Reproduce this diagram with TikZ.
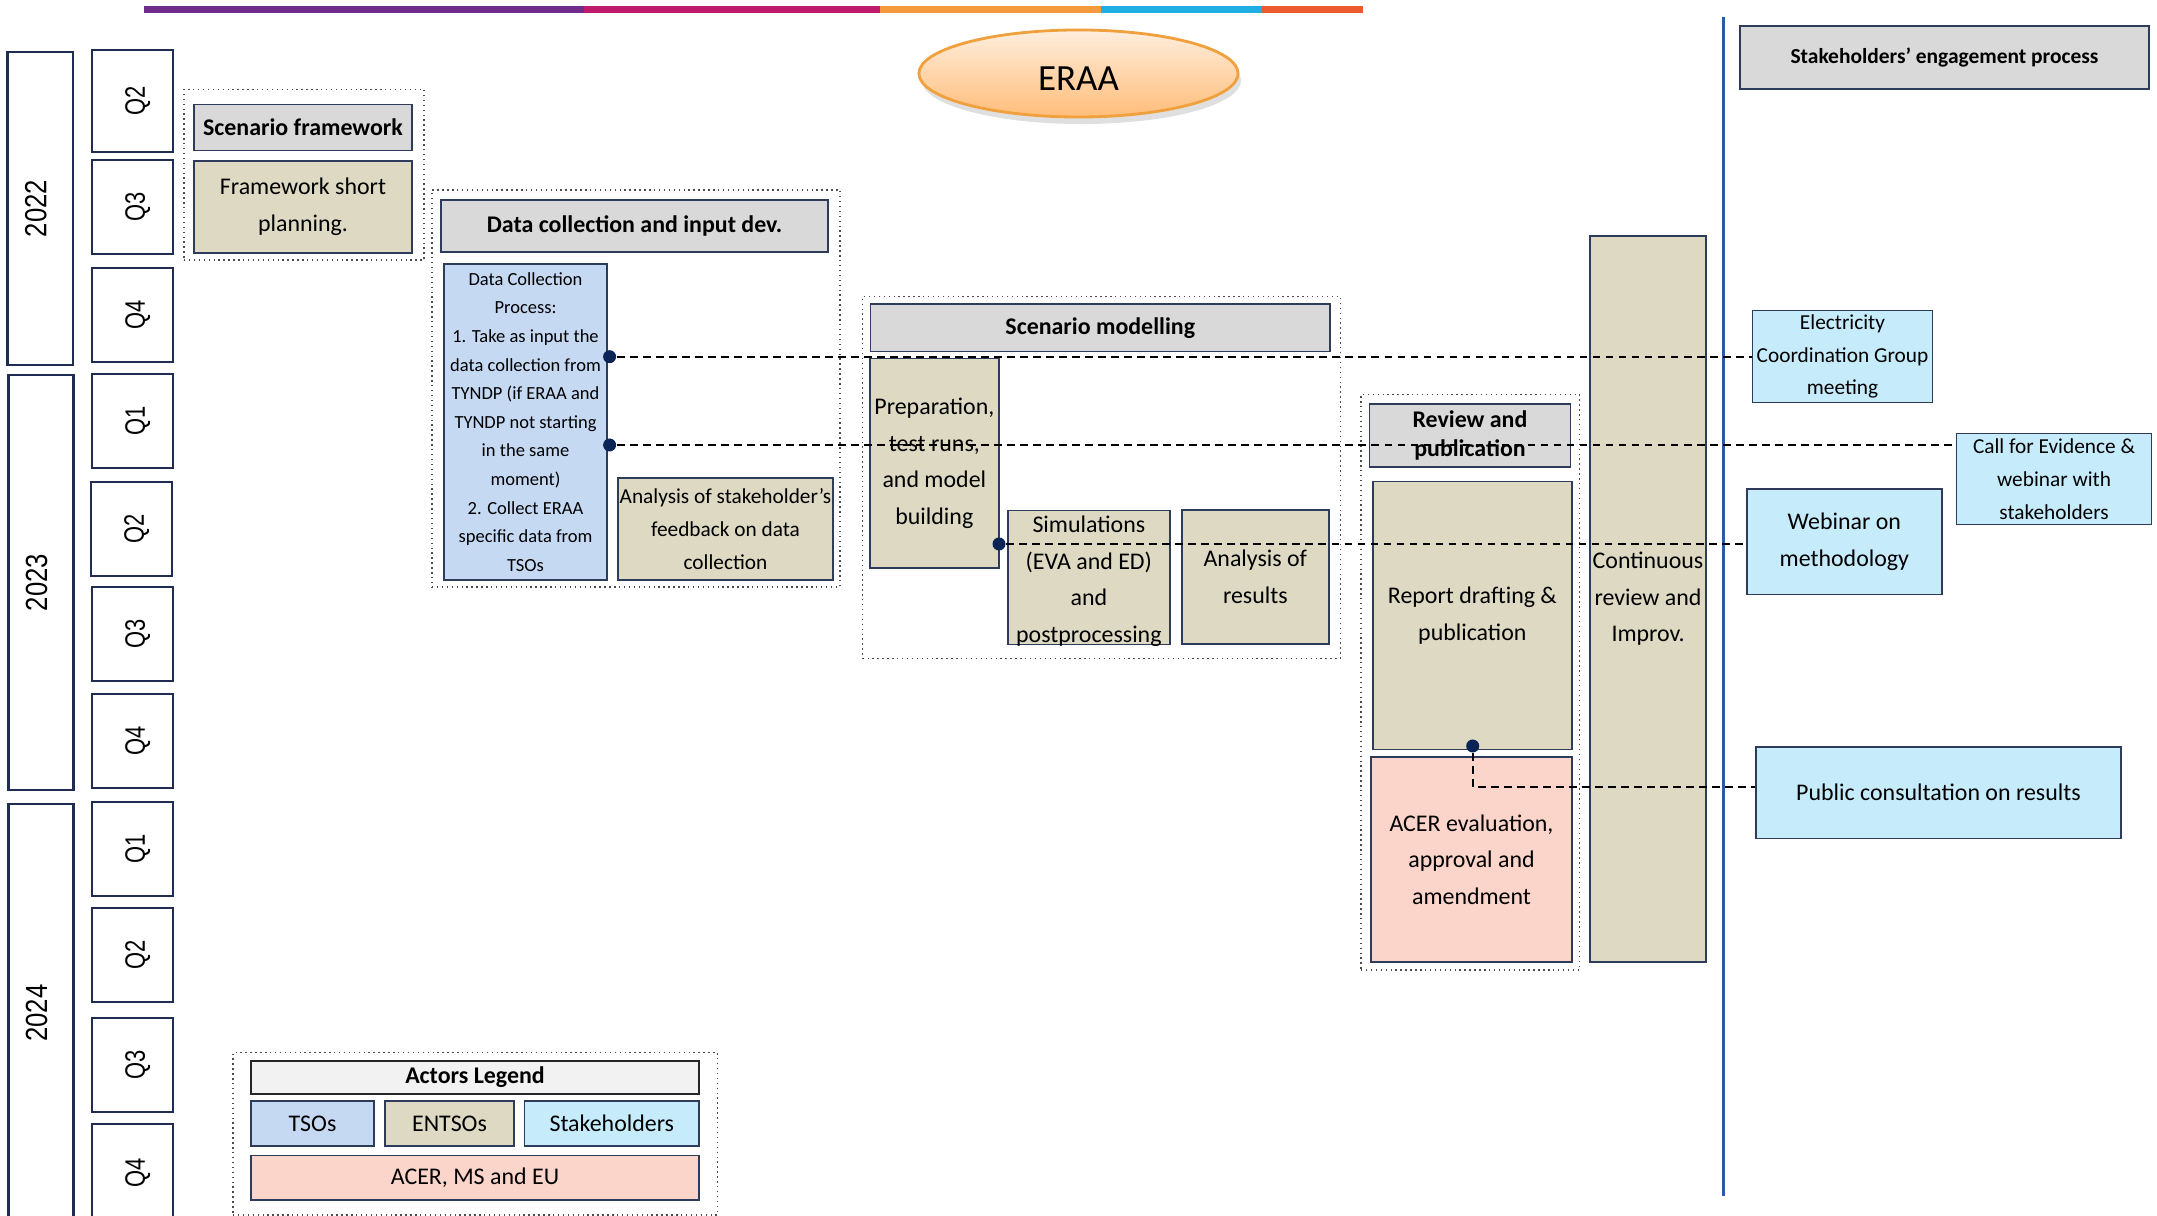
\documentclass[tikz,border=0pt]{standalone}
\usepackage{fontspec}
\usepackage{graphicx}
\setmainfont{Carlito}
\newfontfamily\arialfont{Liberation Sans}
\usetikzlibrary{shapes.geometric,shadows}

\definecolor{hdrgray}{HTML}{D9D9D9}
\definecolor{entbeige}{HTML}{DDD9C3}
\definecolor{tsoblue}{HTML}{C6D9F3}
\definecolor{stkcyan}{HTML}{C6ECFC}
\definecolor{acerpeach}{HTML}{FBD5C9}
\definecolor{leghdr}{HTML}{F2F2F2}
\definecolor{boxline}{HTML}{2E3B5B}
\definecolor{yearline}{HTML}{1F2D52}
\definecolor{dotnavy}{HTML}{0A2456}
\definecolor{vline}{HTML}{2F58A9}
\definecolor{barpurple}{HTML}{6F2C8B}
\definecolor{barmagenta}{HTML}{BE1A6E}
\definecolor{barorange}{HTML}{F4993D}
\definecolor{barcyan}{HTML}{1FAEE3}
\definecolor{barred}{HTML}{EC5B2B}
\definecolor{eraatop}{HTML}{FFEEDD}
\definecolor{eraabot}{HTML}{FFBD7A}
\definecolor{eraaline}{HTML}{F0A03C}

% rotated labels of the time axis
\newcommand\qlab[1]{\rotatebox{90}{\scalebox{0.78}[1]{#1}\rule{0pt}{8.5pt}}}
\newcommand\ylab[1]{\rotatebox{90}{\scalebox{0.84}[1]{#1}\rule[-2.6pt]{0pt}{2.6pt}}}

\tikzset{
  corners/.style args={#1/#2/#3/#4}{at={({(#1+#3)/2},{(#2+#4)/2})},
    minimum width={(#3-#1)*0.01cm}, minimum height={(#4-#2)*0.01cm}},
  box/.style={draw=boxline, line width=0.45pt, inner sep=0pt, align=center},
  txt/.style={inner sep=0pt, align=center, font=\fontsize{6.8}{10.4}\selectfont},
  hdr/.style={box, fill=hdrgray, font=\fontsize{6.8}{8.3}\selectfont\bfseries},
  ent/.style={box, fill=entbeige, font=\fontsize{6.8}{10.4}\selectfont},
  tso/.style={box, fill=tsoblue, font=\fontsize{6.8}{10.4}\selectfont},
  stk/.style={box, fill=stkcyan, font=\fontsize{6.8}{10.4}\selectfont},
  stksmall/.style={stk, font=\fontsize{6.06}{9.3}\selectfont},
  acer/.style={box, fill=acerpeach, font=\fontsize{6.8}{10.4}\selectfont},
  grp/.style={draw=black!70, densely dotted, line width=0.4pt, inner sep=0pt},
  yr/.style={draw=yearline, line width=0.6pt, fill=white, inner sep=0pt, font=\arialfont\fontsize{8.7}{10}\selectfont},
  qtr/.style={yr, font=\arialfont\fontsize{8}{10}\selectfont},
  dot/.style={circle, fill=dotnavy, inner sep=0pt, minimum size=1.3mm},
  link/.style={line width=0.55pt, dash pattern=on 2.2pt off 1.5pt},
}

\begin{document}
\begin{tikzpicture}[x=0.01cm,y=-0.01cm]
\useasboundingbox (0,0) rectangle (2157,1216);

% colour bar on top
\fill[barpurple] (144,6) rectangle (584,13);
\fill[barmagenta] (584,6) rectangle (880,13);
\fill[barorange] (880,6) rectangle (1101,13);
\fill[barcyan] (1101,6) rectangle (1262,13);
\fill[barred] (1262,6) rectangle (1363,13);

% years and quarters
\node[yr, corners=7.5/52/73/365] (y2022) {\ylab{2022}};
\node[yr, corners=8.5/375/73.5/790] (y2023) {\ylab{2023}};
\node[yr, corners=8.5/804/73.5/1222] (y2024) {\ylab{2024}};
\node[qtr, corners=92/50/173/152] (q22b) {\qlab{Q2}};
\node[qtr, corners=92/160/173/254] (q22c) {\qlab{Q3}};
\node[qtr, corners=92/268/173/362] (q22d) {\qlab{Q4}};
\node[qtr, corners=92/374/173/468] (q23a) {\qlab{Q1}};
\node[qtr, corners=91/482/172/576] (q23b) {\qlab{Q2}};
\node[qtr, corners=92/587/173/681] (q23c) {\qlab{Q3}};
\node[qtr, corners=92/694/173/788] (q23d) {\qlab{Q4}};
\node[qtr, corners=92/802/173/896] (q24a) {\qlab{Q1}};
\node[qtr, corners=92/908/173/1002] (q24b) {\qlab{Q2}};
\node[qtr, corners=92/1018/173/1112] (q24c) {\qlab{Q3}};
\node[qtr, corners=92/1124/173/1222] (q24d) {\qlab{Q4}};

% title
\node[ellipse, draw=eraaline, line width=0.8pt, top color=eraatop, bottom color=eraabot,
      drop shadow={shadow xshift=0.3mm, shadow yshift=-0.7mm, opacity=0.25},
      minimum width=3.19cm, minimum height=0.87cm, inner sep=0pt,
      text height=9.6pt, text depth=0pt,
      font=\fontsize{10.5}{12}\selectfont] (eraa) at (1078.5,73.5) {ERAA};

% scenario framework
\node[grp, corners=184/89.5/424/260] (sfgrp) {};
\node[hdr, corners=194/104.5/412/150.4] (sfhdr) {Scenario framework};
\node[ent, corners=194/161/412/253] (sfplan) {Framework short\\planning.};

% data collection
\node[grp, corners=432/190/840/587] (dcgrp) {};
\node[hdr, corners=441/200/828/252] (dchdr) {Data collection and input dev.};
\node[tso, corners=444/264/607/580, font=\fontsize{5.26}{8.14}\selectfont] (dcproc)
  {Data Collection\\Process:\\1. Take as input the\\data collection from\\TYNDP (if ERAA and\\TYNDP not starting\\in the same\\moment)\\2. Collect ERAA\\specific data from\\TSOs};
\node[ent, corners=618/478/833/580, font=\fontsize{6.06}{9.3}\selectfont] (dcfeed)
  {Analysis of stakeholder’s\\feedback on data\\collection};

% scenario modelling
\node[grp, corners=862.6/296.6/1340.3/658.5] (smgrp) {};
\node[hdr, corners=870.5/304/1330/351.4] (smhdr) {Scenario modelling};
\node[ent, corners=870/358.7/998.7/568] (smprep) {Preparation,\\test runs,\\and model\\building};
\node[ent, corners=1007.7/510.7/1170/644.5] (smsim) {};
\begin{scope}
  \clip (smsim.south west) rectangle (smsim.north east);
  \node[txt] (smsimtxt) at ([yshift=-1pt]smsim.center) {Simulations\\(EVA and ED)\\and\\postprocessing};
\end{scope}
\node[ent, corners=1182/510/1328.7/644] (smres) {Analysis of\\results};

% review and publication
\node[grp, corners=1361/394.5/1579.5/970] (rpgrp) {};
\node[hdr, corners=1369.4/404/1570.6/467] (rphdr) {Review and\\publication};
\node[ent, corners=1372.7/481.6/1572/749.6] (rpdraft) {Report drafting \&\\publication};
\node[acer, corners=1371/757/1572/962] (rpacer) {ACER evaluation,\\approval and\\amendment};

\node[ent, corners=1590/236/1706/962] (cont) {Continuous\\review and\\Improv.};

% stakeholders side
\draw[vline, line width=0.85pt] (1723.6,17) -- (1723.6,1196);
\node[hdr, corners=1740/26/2149/89, font=\fontsize{6.1}{8}\selectfont\bfseries] (sthdr) {Stakeholders’ engagement process};
\node[stksmall, corners=1752.6/310.5/1932.4/402.4] (ecg) {Electricity\\Coordination Group\\meeting};
\node[stksmall, corners=1956.5/433.4/2151.6/524.6] (cfe) {Call for Evidence \&\\webinar with\\stakeholders};
\node[stk, corners=1747/489/1941.7/594.7] (web) {Webinar on\\methodology};
\node[stk, corners=1756/746.8/2121/838.6] (pc) {Public consultation on results};

% links to stakeholders
\node[dot] (dcdotA) at (609.6,356.7) {};
\node[dot] (dcdotB) at (609.6,445) {};
\node[dot] (smdot) at (999,544) {};
\node[dot] (rpdot) at (1472.7,746) {};
\draw[link] (dcdotA) -- (dcdotA -| ecg.west);
\draw[link] (dcdotB) -- (dcdotB -| cfe.west);
\draw[link] (smdot) -- (smdot -| web.west);
\draw[link] (rpdot) |- ([yshift=1.6pt]pc.west);

% legend
\node[grp, corners=233/1052.6/717.5/1215] (leggrp) {};
\node[hdr, corners=251/1061/699/1094, fill=leghdr, draw=black!85] (leghdr) {Actors Legend};
\node[tso, corners=251/1101/374/1146] (legtso) {TSOs};
\node[ent, corners=385/1101/514/1146] (legent) {ENTSOs};
\node[stk, corners=524.6/1101/699/1146] (legstk) {Stakeholders};
\node[acer, corners=251/1155.6/699/1200] (legacer) {ACER, MS and EU};
\end{tikzpicture}
\end{document}
